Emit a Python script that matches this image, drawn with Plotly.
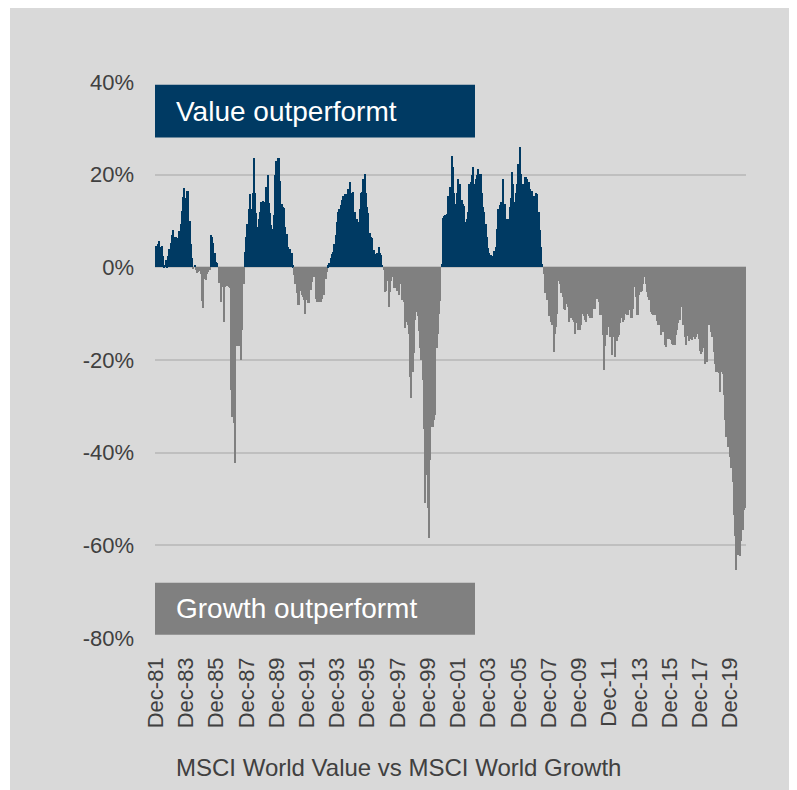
import plotly.graph_objects as go
import pandas as pd

# Monthly relative performance, MSCI World Value vs MSCI World Growth (%), Dec-1981 .. Dec-2020
start_month = "1981-12-01"
spread_1981_1990 = [
    4.5, 3.0, 5.0, 5.7, 4.3, 4.7, 2.5, 0.4, 1.5, 0.3,
    2.5, 4.0, 5.3, 6.9, 8.1, 6.5, 6.5, 6.3, 5.8, 7.8,
    9.3, 12.2, 15.1, 17.1, 15.0, 16.4, 16.4, 10.1, 5.0, 2.0,
    -0.4, 0.6, -0.6, -1.2, -1.0, -0.8, -1.5, -7.3, -8.7, -2.5,
    -2.8, -1.5, -1.0, -0.5, 7.0, 6.5, 5.3, 3.2, 1.2, 0.9,
    -3.4, -3.2, -7.4, -4.2, -11.9, -4.2, -4.0, -4.0, -4.2, -4.5,
    -26.5, -32.3, -33.7, -42.3, -16.9, -16.9, -16.9, -13.2, -20.0, -13.5,
    -3.5, 3.3, 6.5, 9.4, 12.6, 15.8, 12.5, 16.0, 23.6, 16.0,
    11.7, 8.7, 10.5, 12.0, 14.0, 14.4, 14.2, 13.5, 17.3, 19.9,
    13.9, 11.7, 9.1, 8.3, 11.4, 20.0, 22.9, 23.6, 23.6, 18.7,
    13.7, 13.0, 12.7, 8.6, 7.2, 4.4, 2.6, 4.0, 3.0, 0.4,
]
spread_1990_2000 = [
    -1.6, -3.5, -5.6, -8.1, -8.1, -5.2, -6.0, -6.5, -7.0, -10.0,
    -7.0, -7.8, -7.8, -4.9, -3.2, -2.1, -2.0, -6.8, -7.5, -7.5,
    -7.5, -7.5, -6.8, -5.9, -5.9, -2.5, -1.0, 0.4, 1.0, 2.0,
    2.9, 3.3, 5.0, 6.9, 9.8, 11.9, 12.5, 13.4, 14.5, 15.5,
    15.9, 15.9, 13.7, 17.0, 18.4, 16.0, 14.3, 16.2, 12.0, 9.8,
    10.5, 9.8, 12.5, 16.0, 16.3, 19.1, 20.2, 16.0, 13.0, 11.8,
    7.5, 6.6, 6.3, 3.7, 2.8, 1.5, 3.0, 4.4, 3.2, 2.6,
    0.5, -0.5, -5.3, -5.0, -3.0, -8.6, -5.3, -3.0, -2.1, -4.5,
    -3.0, -4.5, -5.2, -5.9, -3.5, -2.1, -7.0, -7.5, -13.2, -11.8,
    -12.5, -14.3, -23.6, -28.3, -22.5, -18.5, -11.4, -9.7, -10.5, -13.8,
    -17.5, -20.0, -24.4, -34.8, -50.9, -44.9, -52.0, -58.5, -41.6, -34.4,
    -34.4, -33.0, -31.9, -17.5, -14.3, -10.0, -7.3,
]
spread_2000_2010 = [
    0.8, 10.7, 11.0, 11.4, 11.6, 15.5, 15.5, 17.3, 24.1, 21.6,
    16.0, 13.7, 16.0, 19.1, 15.5, 18.0, 14.5, 13.7, 13.3, 9.8,
    10.5, 12.0, 18.0, 18.4, 20.0, 21.6, 18.0, 19.1, 20.0, 21.2,
    20.2, 20.2, 16.0, 13.0, 11.9, 9.4, 6.6, 4.1, 3.0, 2.6,
    1.2, 2.5, 3.5, 4.4, 8.3, 12.5, 13.4, 14.0, 14.0, 19.1,
    13.7, 10.5, 7.9, 10.5, 13.0, 15.0, 20.5, 18.0, 14.0, 16.0,
    18.0, 22.3, 25.9, 20.2, 16.5, 18.0, 19.5, 19.5, 19.0, 18.4,
    17.0, 16.5, 16.5, 15.5, 14.5, 16.0, 15.9, 12.0, 8.0, 4.4,
    0.8, -1.4, -5.6, -5.0, -7.0, -10.6, -8.5, -11.8, -12.5, -18.2,
    -14.3, -12.9, -10.0, -3.0, -3.5, -5.5, -6.5, -8.9, -9.3, -8.0,
    -8.5, -11.8, -9.3, -11.0, -11.4, -11.8, -14.3, -12.0, -13.5, -13.5,
    -13.5, -12.5, -10.0, -10.6, -11.4, -11.8, -10.0, -10.6, -11.0, -11.0,
    -9.0, -8.9,
]
spread_2010_2020 = [
    -8.9, -6.8, -4.0, -7.5, -10.3, -10.3, -14.7, -22.2, -17.0, -14.7,
    -12.9, -12.5, -15.0, -18.9, -14.0, -15.0, -19.3, -16.0, -15.0, -14.7,
    -12.0, -11.0, -11.8, -11.4, -10.0, -10.3, -10.3, -9.3, -11.0, -11.0,
    -8.9, -4.3, -6.4, -10.3, -10.3, -6.0, -5.3, -5.2, -3.5, -2.1,
    -3.5, -5.3, -6.4, -7.0, -9.6, -10.0, -10.3, -10.3, -9.0, -11.5,
    -12.5, -12.5, -14.7, -13.0, -14.0, -16.8, -17.2, -15.5, -15.4, -15.4,
    -15.7, -16.5, -16.8, -16.8, -14.7, -13.6, -12.0, -11.4, -8.2, -8.5,
    -12.5, -15.0, -16.8, -14.9, -16.0, -15.4, -15.4, -15.7, -15.0, -15.4,
    -15.0, -14.3, -15.4, -18.0, -18.6, -18.3, -17.5, -20.8, -20.4, -20.4,
    -12.5, -10.3, -14.0, -15.0, -18.2, -20.8, -22.5, -22.5, -22.9, -26.9,
    -22.6, -23.0, -27.6, -33.0, -36.6, -38.7, -38.0, -41.0, -43.4, -46.3,
    -53.4, -58.0, -65.3, -62.0, -57.0, -62.4, -59.0, -56.7, -52.4, -52.0,
]

y_tick_values = [40, 20, 0, -20, -40, -60, -80]
y_tick_labels = ["40%", "20%", "0%", "-20%", "-40%", "-60%", "-80%"]
x_label_every = 24  # one label every two years (every December)
value_label = "Value outperformt"
growth_label = "Growth outperformt"
chart_title = "MSCI World Value vs MSCI World Growth"

values = spread_1981_1990 + spread_1990_2000 + spread_2000_2010 + spread_2010_2020
months = pd.date_range(start_month, periods=len(values), freq="MS")
idx = list(range(len(values)))
tick_idx = idx[::x_label_every]
tick_txt = [months[i].strftime("%b-%y") for i in tick_idx]

NAVY = "#003A63"
GREY = "#808080"
BG = "#D9D9D9"
TXT = "#404040"
FONT = "Liberation Sans, Arial, sans-serif"

colors = [NAVY if v >= 0 else GREY for v in values]

fig = go.Figure(go.Bar(x=idx, y=values, marker=dict(color=colors, line=dict(width=0)),
                       width=1.0, hoverinfo="skip"))

# figure is placed by the page at an 8px offset
OFF = 8
W, H = 797 - OFF, 790 - OFF
L, T = 155 - OFF, 82 - OFF
R = W - (746 - OFF)
B = H - (638 - OFF)
pw, ph = W - L - R, H - T - B

def px_x(p):  # screen pixel -> paper x
    return (p - OFF - L) / pw

def px_y(p):  # screen pixel -> paper y
    return (H - B - (p - OFF)) / ph

shapes = [
    dict(type="rect", xref="paper", yref="paper", x0=px_x(OFF - 1), x1=px_x(10), y0=px_y(800), y1=px_y(0),
         fillcolor="white", line=dict(width=0), layer="above"),
    dict(type="rect", xref="paper", yref="y", x0=0, x1=px_x(475), y0=28.0, y1=39.4,
         fillcolor=NAVY, line=dict(width=0), layer="above"),
    dict(type="rect", xref="paper", yref="y", x0=0, x1=px_x(475), y0=-79.3, y1=-68.1,
         fillcolor=GREY, line=dict(width=0), layer="above"),
]
annotations = [
    dict(text=value_label, xref="paper", yref="y", x=px_x(174), y=33.7, xanchor="left",
         yanchor="middle", showarrow=False, font=dict(family=FONT, size=28, color="white")),
    dict(text=growth_label, xref="paper", yref="y", x=px_x(174), y=-73.7, xanchor="left",
         yanchor="middle", showarrow=False, font=dict(family=FONT, size=28, color="white")),
    dict(text=chart_title, xref="paper", yref="paper", x=px_x(174), y=px_y(768), xanchor="left",
         yanchor="middle", showarrow=False, font=dict(family=FONT, size=24, color=TXT)),
]

fig.update_layout(
    width=W, height=H,
    margin=dict(l=L, r=R, t=T, b=B, pad=0),
    paper_bgcolor=BG, plot_bgcolor=BG,
    bargap=0, showlegend=False,
    font=dict(family=FONT, color=TXT, size=22),
    shapes=shapes, annotations=annotations,
    xaxis=dict(range=[-0.5, len(values) - 0.5], tickmode="array", tickvals=tick_idx, ticktext=tick_txt,
               tickangle=-90, showgrid=False, zeroline=False, showline=False, ticks="",
               ticklabelstandoff=14, tickfont=dict(size=22, color=TXT)),
    yaxis=dict(range=[-80, 40], tickmode="array", tickvals=y_tick_values, ticktext=y_tick_labels,
               showgrid=True, gridcolor="#BFBFBF", gridwidth=2, zeroline=False, showline=False,
               ticks="", ticklabelstandoff=20, tickfont=dict(size=22, color=TXT)),
)

fig.write_html("out.html")
